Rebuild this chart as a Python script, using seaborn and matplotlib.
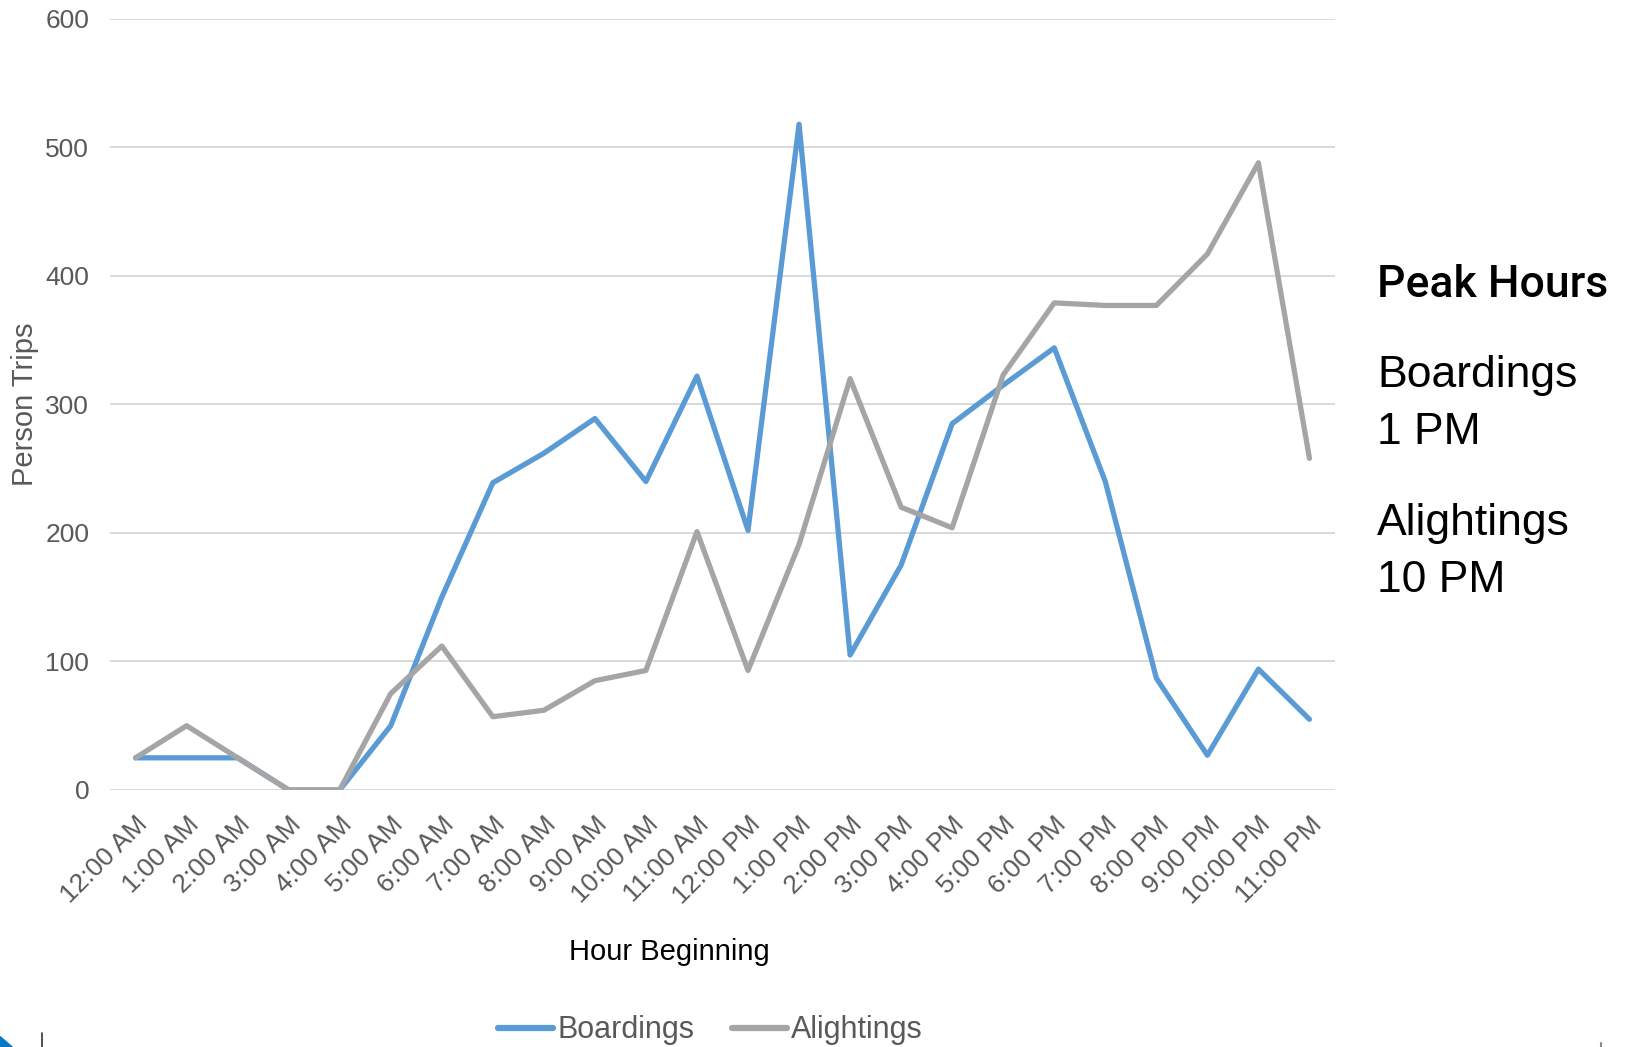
import pandas as pd
import matplotlib.pyplot as plt
import seaborn as sns

hours = ['12:00 AM', '1:00 AM', '2:00 AM', '3:00 AM', '4:00 AM', '5:00 AM',
         '6:00 AM', '7:00 AM', '8:00 AM', '9:00 AM', '10:00 AM', '11:00 AM',
         '12:00 PM', '1:00 PM', '2:00 PM', '3:00 PM', '4:00 PM', '5:00 PM',
         '6:00 PM', '7:00 PM', '8:00 PM', '9:00 PM', '10:00 PM', '11:00 PM']
boardings = [25, 25, 25, 0, 0, 50, 150, 239, 262, 289, 240, 322,
             202, 518, 105, 175, 285, 315, 344, 240, 87, 27, 94, 55]
alightings = [25, 50, 25, 0, 0, 75, 112, 57, 62, 85, 93, 201,
              93, 191, 320, 220, 204, 323, 379, 377, 377, 417, 488, 258]
series_names = ['Boardings', 'Alightings']
series_colors = ['#5B9BD5', '#A5A5A5']
y_ticks = [0, 100, 200, 300, 400, 500, 600]

df = pd.DataFrame({'hour': hours * 2,
                   'trips': boardings + alightings,
                   'series': [series_names[0]] * len(hours) + [series_names[1]] * len(hours)})

sns.set_style('white')
plt.rcParams['font.family'] = ['Liberation Sans', 'DejaVu Sans']
plt.rcParams['text.color'] = 'black'

fig = plt.figure(figsize=(16.3, 10.47), dpi=100)
ax = fig.add_axes([0.0675, 0.2455, 0.7515, 0.7365])

sns.lineplot(data=df, x='hour', y='trips', hue='series', palette=series_colors,
             linewidth=3.8, sort=False, ax=ax, legend=False)
for line in ax.lines:
    line.set_solid_joinstyle('round')
    line.set_solid_capstyle('round')

ax.set_xlim(-0.5, len(hours) - 0.5)
ax.set_ylim(0, 600)
ax.set_yticks(y_ticks)
ax.yaxis.grid(True, color='#D9D9D9', linewidth=1.4)
ax.set_axisbelow(True)
for s in ax.spines.values():
    s.set_visible(False)
ax.tick_params(axis='both', length=0, colors='#595959', labelsize=19)
ax.tick_params(axis='y', pad=15)
ax.set_xticks(range(len(hours)))
ax.set_xticklabels(hours, rotation=45, ha='right', rotation_mode='anchor')
ax.tick_params(axis='x', pad=16)

ax.set_ylabel('Person Trips', fontsize=21, color='#595959')
ax.yaxis.set_label_coords(-0.058, 0.5)
ax.set_xlabel('')
fig.text(0.4105, 0.083, 'Hour Beginning', fontsize=21, color='black',
         ha='center', va='baseline')

handles = [plt.Line2D([], [], color=c, linewidth=4.5, solid_capstyle='round') for c in series_colors]
fig.legend(handles, series_names, loc='center', bbox_to_anchor=(0.436, 0.016), ncol=2,
           frameon=False, handlelength=1.8, handletextpad=0.15, columnspacing=1.2,
           prop={'size': 22}, labelcolor='#595959')

fig.text(0.845, 0.716, 'Peak Hours', fontsize=32, fontweight='medium', va='baseline',
         family=['Roboto', 'DejaVu Sans'])
fig.text(0.845, 0.630, 'Boardings', fontsize=32, va='baseline')
fig.text(0.845, 0.576, '1 PM', fontsize=32, va='baseline')
fig.text(0.845, 0.489, 'Alightings', fontsize=32, va='baseline')
fig.text(0.845, 0.435, '10 PM', fontsize=32, va='baseline')

# slide artifacts along the bottom edge
fig.patches.append(plt.Polygon([[0, 0], [0, 0.010], [0.0075, 0]], closed=True,
                               transform=fig.transFigure, color='#0A78C8'))
fig.add_artist(plt.Line2D([0.0258, 0.0258], [0, 0.013], color='#333333', linewidth=1.2,
                          transform=fig.transFigure))
fig.add_artist(plt.Line2D([0.982, 0.982], [0, 0.004], color='#888888', linewidth=1.5,
                          transform=fig.transFigure))

fig.savefig('out.png', dpi=100)
